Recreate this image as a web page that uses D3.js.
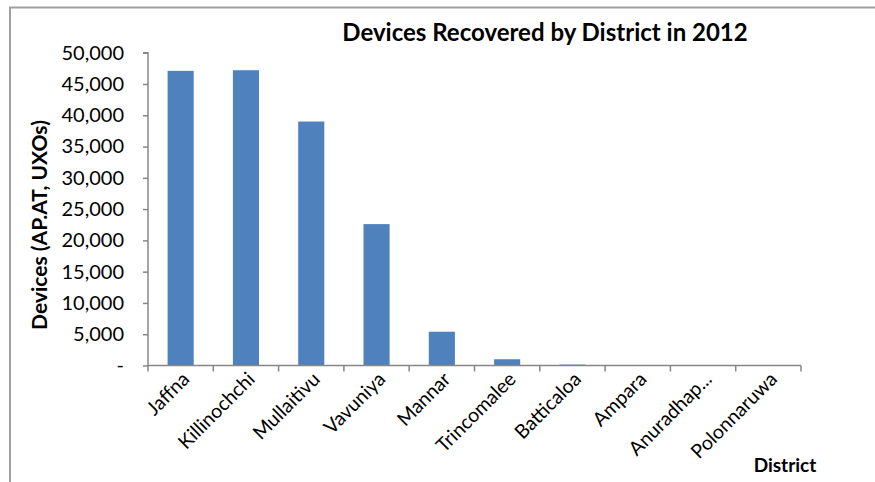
<!DOCTYPE html>
<html>
<head>
<meta charset="utf-8">
<script src="https://cdn.jsdelivr.net/npm/d3@7"></script>
<style>
    body { margin: 0; background: #fff; }
    text { font-family: Lato, "Open Sans", sans-serif; fill: #000; }
</style>
</head>
<body>
<script>
// data
var districts = ["Jaffna", "Killinochchi", "Mullaitivu", "Vavuniya", "Mannar",
                 "Trincomalee", "Batticaloa", "Ampara", "Anuradhap...", "Polonnaruwa"];
var devices = [47100, 47200, 39000, 22600, 5400, 1000, 150, 0, 0, 0];
var yTicks = [0, 5000, 10000, 15000, 20000, 25000, 30000, 35000, 40000, 45000, 50000];

(function(){
    var width = 875,
        height = 482;

    var svg = d3.select("body")
        .append("svg")
        .attr("width", width)
        .attr("height", height);

    // chart frame (clipped at right and bottom in the original)
    svg.append("path")
        .attr("d", "M10," + (height + 5) + "V7.5H" + (width + 5))
        .attr("fill", "none")
        .attr("stroke", "#a0a0a0")
        .attr("stroke-width", 2);

    var left = 148, right = 801, top = 52.7, bottom = 365.5;

    var x = d3.scaleBand()
        .domain(districts)
        .range([left, right])
        .paddingInner(0.6)
        .paddingOuter(0.3);

    var y = d3.scaleLinear()
        .domain([0, 50000])
        .range([bottom, top]);

    // bars
    svg.selectAll(".bar")
        .data(devices)
        .enter()
        .append("rect")
        .attr("class", "bar")
        .attr("x", function(d, i){ return x(districts[i]); })
        .attr("width", x.bandwidth())
        .attr("y", function(d){ return y(d); })
        .attr("height", function(d){ return y(0) - y(d); })
        .attr("fill", "#4f81bd");

    var axisColor = "#868686";

    // y axis
    var yAxis = d3.axisLeft(y)
        .tickValues(yTicks)
        .tickSize(5)
        .tickPadding(19)
        .tickFormat(function(d){ return d === 0 ? "-" : d3.format(",")(d); });

    var gy = svg.append("g")
        .attr("transform", "translate(" + left + ",0)")
        .call(yAxis);
    gy.select(".domain").attr("stroke", axisColor).attr("stroke-width", 1.5)
        .attr("d", "M-5," + top + "H0V" + bottom);
    gy.selectAll(".tick line").attr("stroke", axisColor).attr("stroke-width", 1.5);
    gy.selectAll(".tick text")
        .style("font-size", "20px")
        .style("font-family", "Lato, sans-serif");

    // x axis: ticks at category boundaries
    var bounds = d3.range(districts.length + 1).map(function(i){ return left + i * (right - left) / districts.length; });
    var gx = svg.append("g");
    gx.append("line")
        .attr("x1", left).attr("x2", right)
        .attr("y1", bottom).attr("y2", bottom)
        .attr("stroke", axisColor).attr("stroke-width", 1.5);
    gx.selectAll(".xtick")
        .data(bounds)
        .enter()
        .append("line")
        .attr("x1", function(d){ return d; }).attr("x2", function(d){ return d; })
        .attr("y1", bottom).attr("y2", bottom + 6)
        .attr("stroke", axisColor).attr("stroke-width", 1.5);

    gx.selectAll(".xlabel")
        .data(districts)
        .enter()
        .append("text")
        .attr("class", "xlabel")
        .attr("text-anchor", "end")
        .attr("transform", function(d){
            var cx = x(d) + x.bandwidth() / 2 + 10;
            return "translate(" + cx + "," + (bottom + 15) + ") rotate(-45)";
        })
        .style("font-size", "19.5px")
        .text(function(d){ return d; });

    // titles
    svg.append("text")
        .attr("x", 545)
        .attr("y", 41)
        .attr("text-anchor", "middle")
        .style("font-size", "24px")
        .style("font-weight", "bold")
        .text("Devices Recovered by District in 2012");

    svg.append("text")
        .attr("transform", "translate(47,225) rotate(-90)")
        .attr("text-anchor", "middle")
        .style("font-size", "21px")
        .style("font-weight", "bold")
        .text("Devices (AP.AT, UXOs)");

    svg.append("text")
        .attr("x", 785)
        .attr("y", 472)
        .attr("text-anchor", "middle")
        .style("font-size", "19px")
        .style("font-weight", "bold")
        .text("District");
})();
</script>
</body>
</html>
